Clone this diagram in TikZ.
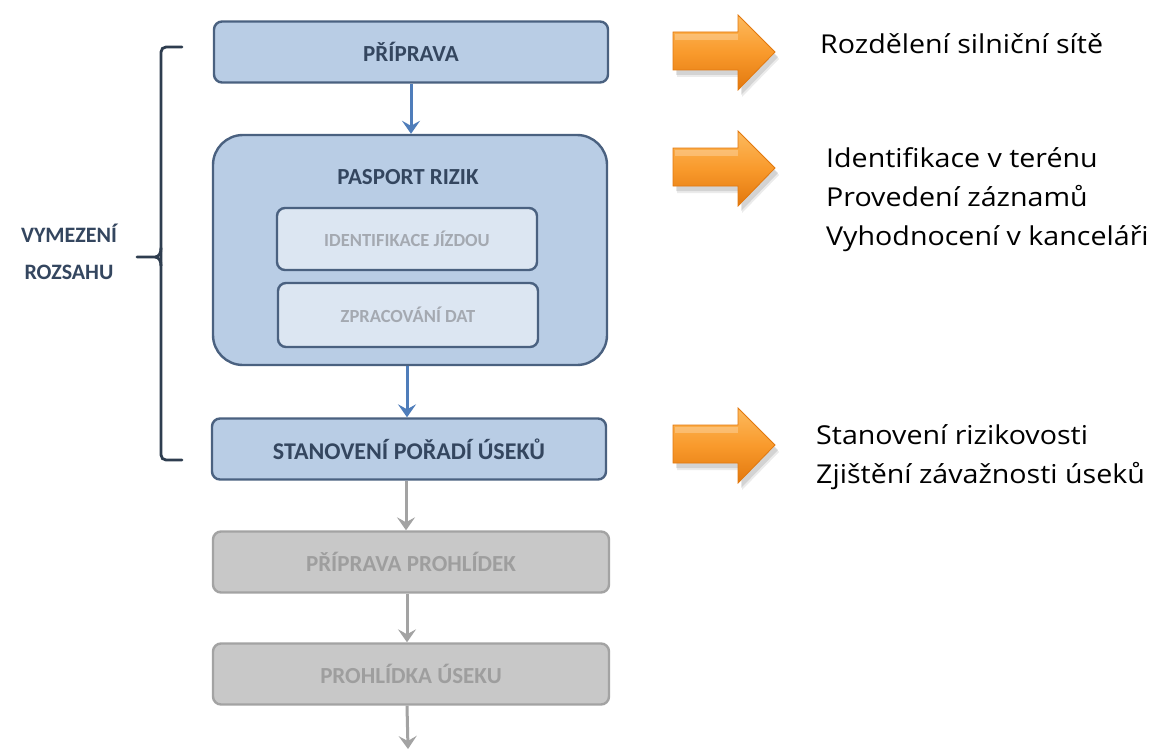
\documentclass[tikz,border=0pt]{standalone}
\usepackage{fontspec}
\setmainfont{Open Sans}[FakeStretch=1.1]
\newfontfamily\boxfont{Carlito}
\usetikzlibrary{arrows.meta}
\definecolor{boxfill}{HTML}{B9CDE5}
\definecolor{boxline}{HTML}{4A6180}
\definecolor{innerfill}{HTML}{DCE6F2}
\definecolor{labtext}{HTML}{34465F}
\definecolor{innertext}{HTML}{A4A9B1}
\definecolor{grayfill}{HTML}{C8C8C8}
\definecolor{grayline}{HTML}{A3A3A3}
\definecolor{graytext}{HTML}{9E9E9E}
\definecolor{bluearrow}{HTML}{4F7DBA}
\definecolor{bracecol}{HTML}{2E3D4F}
\definecolor{orlight}{HTML}{FCBA5E}
\definecolor{ormid}{HTML}{F99A2C}
\definecolor{ordark}{HTML}{E2780E}
\tikzset{
  x=1pt, y=-1pt,
  bluebox/.style={draw=boxline, line width=2.4pt, fill=boxfill, rounded corners=8pt,
    minimum width=394pt, minimum height=61pt, inner sep=0pt,
    font=\boxfont\bfseries\fontsize{23}{25}\selectfont, text=labtext},
  innerbox/.style={draw=boxline, line width=2.4pt, fill=innerfill, rounded corners=8pt,
    minimum width=260pt, minimum height=62pt, inner sep=0pt,
    font=\boxfont\bfseries\fontsize{18.5}{20}\selectfont, text=innertext},
  graybox/.style={draw=grayline, line width=2.4pt, fill=grayfill, rounded corners=8pt,
    minimum width=396pt, minimum height=61pt, inner sep=0pt,
    font=\boxfont\bfseries\fontsize{23}{25}\selectfont, text=graytext},
  bluearr/.style={draw=bluearrow, line width=3pt, -{Stealth[length=13pt,width=18pt,inset=5pt]}},
  grayarr/.style={draw=grayline, line width=3pt, -{Stealth[length=13pt,width=18pt,inset=5pt]}},
  orarrow/.style={draw=ordark, line width=0.8pt, top color=orlight, bottom color=ordark, middle color=ormid},
  righttext/.style={anchor=base west, align=left, font=\fontsize{26}{39}\selectfont, inner sep=0pt},
}
\newcommand{\orangearrowpath}{(-51,-20) -- (14,-20) -- (14,-37) -- (51,0) -- (14,38) -- (14,18) -- (-51,18) -- cycle}
\begin{document}
\begin{tikzpicture}
\useasboundingbox (0,0) rectangle (1155,749);
\fill[white] (0,0) rectangle (1155,749);

% main column
\node[bluebox] (priprava) at (411,52) {PŘÍPRAVA};
\node[bluebox, minimum height=230pt, rounded corners=30pt] (pasport) at (410,250) {};
\node[font=\boxfont\bfseries\fontsize{23}{25}\selectfont, text=labtext] (pasporttitle) at (408,177) {PASPORT RIZIK};
\node[innerbox] (ident) at (407,239) {IDENTIFIKACE JÍZDOU};
\node[innerbox, minimum height=64pt] (zprac) at (408,315) {ZPRACOVÁNÍ DAT};
\node[bluebox, font=\boxfont\bfseries\fontsize{24}{26}\selectfont] (poradi) at (409,449) {STANOVENÍ POŘADÍ ÚSEKŮ};
\node[graybox] (prohlidek) at (411,562) {PŘÍPRAVA PROHLÍDEK};
\node[graybox] (prohlidka) at (411,674) {PROHLÍDKA ÚSEKU};
\coordinate (endpt) at (408,749);

\draw[bluearr] (priprava.south) -- (priprava.south |- pasport.north);
\draw[bluearr] ([xshift=-3pt]pasport.south) -- ([xshift=-3pt]pasport.south |- poradi.north);
\draw[grayarr] ([xshift=-3pt]poradi.south) -- ([xshift=-3pt]poradi.south |- prohlidek.north);
\draw[grayarr] ([xshift=-4pt]prohlidek.south) -- ([xshift=-4pt]prohlidek.south |- prohlidka.north);
\draw[grayarr] ([xshift=-4pt]prohlidka.south) -- (endpt);

% bracket
\coordinate (btop) at (182,47);
\coordinate (bbot) at (182,460);
\coordinate (btip) at (137,257);
\draw[bracecol, line width=2.8pt, line cap=round, rounded corners=5pt]
  (btop) -- (161,47) -- (161,460) -- (bbot);
\draw[bracecol, line width=2.8pt, line cap=round] (btip) -- (155,257) .. controls (159,257) and (161,253) .. (161,248);
\draw[bracecol, line width=2.8pt] (155,257) .. controls (159,257) and (161,261) .. (161,266);
\node[font=\boxfont\bfseries\fontsize{22}{37}\selectfont, text=labtext, align=center] (vymezeni) at (69,252) {VYMEZENÍ\\ROZSAHU};

% orange arrows
\foreach \yy in {52, 168, 445}{
  \fill[black, opacity=0.10, shift={(727,\yy+5)}] \orangearrowpath;
  \fill[black, opacity=0.08, shift={(728,\yy+7)}] \orangearrowpath;
  \shade[orarrow, shift={(724,\yy)}] \orangearrowpath;
  \fill[white, opacity=0.25, shift={(724,\yy)}] (-49,-18) -- (14,-18) -- (14,-12) -- (-49,-12) -- cycle;
}
\node[righttext] (t1) at (820,54) {Rozdělení silniční sítě};
\node[righttext] (t2) at (826,245) {Identifikace v terénu\\Provedení záznamů\\Vyhodnocení v kanceláři};
\node[righttext] (t3) at (816,483) {Stanovení rizikovosti\\Zjištění závažnosti úseků};
\end{tikzpicture}
\end{document}
